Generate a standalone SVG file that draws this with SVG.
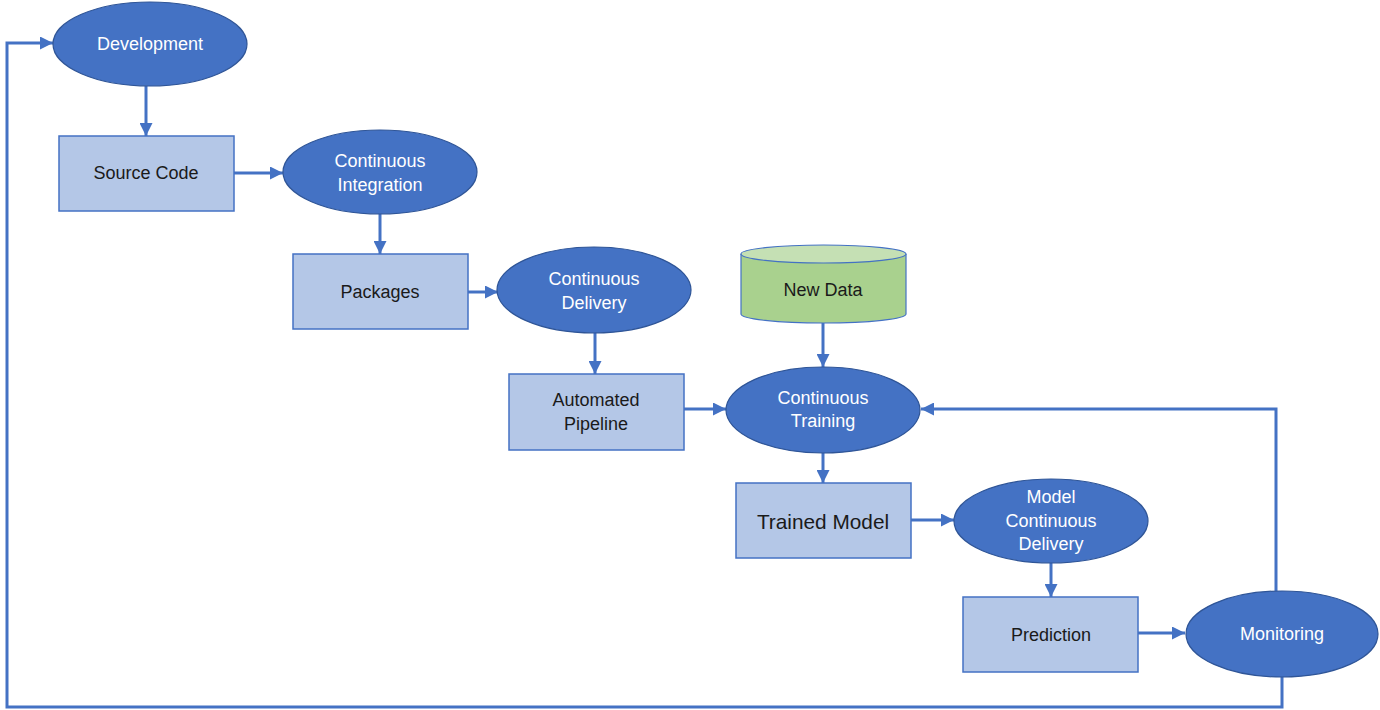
<svg xmlns="http://www.w3.org/2000/svg" width="1380" height="710" viewBox="0 0 1380 710">
<style>
.ell{fill:#4472C4;stroke:#2F5597;stroke-width:1.2}
.box{fill:#B4C7E7;stroke:#4472C4;stroke-width:1.5}
.wt{fill:#FFFFFF;font-family:"Liberation Sans",Arial,sans-serif;font-size:18px;text-anchor:middle;dominant-baseline:central}
.bt{fill:#1A1A1A;font-family:"Liberation Sans",Arial,sans-serif;font-size:18px;text-anchor:middle;dominant-baseline:central}
.con{fill:none;stroke:#4472C4;stroke-width:3;marker-end:url(#ah)}
</style>
<defs>
<marker id="ah" markerUnits="userSpaceOnUse" markerWidth="13" markerHeight="13" refX="13" refY="6.5" orient="auto">
<path d="M0,0 L13,6.5 L0,13 z" fill="#4472C4"/>
</marker>
</defs>
<rect width="1380" height="710" fill="#FFFFFF"/>
<g id="connectors">
<path class="con" d="M146,86 V136"/>
<path class="con" d="M234,173 H283"/>
<path class="con" d="M380,213 V254"/>
<path class="con" d="M468,292 H498"/>
<path class="con" d="M595,332 V374"/>
<path class="con" d="M823,323 V367"/>
<path class="con" d="M684,409 H726"/>
<path class="con" d="M823,452 V483"/>
<path class="con" d="M911,520 H954"/>
<path class="con" d="M1051,563 V597"/>
<path class="con" d="M1138,633 H1185"/>
<path class="con" d="M1276,591 V409 H921"/>
<path class="con" d="M1282,676 V707 H7 V43 H53"/>
</g>
<g id="development">
<ellipse class="ell" cx="150" cy="44" rx="97" ry="42"/>
<text class="wt" x="150" y="44">Development</text>
</g>
<g id="source-code">
<rect class="box" x="59" y="136" width="175" height="75"/>
<text class="bt" x="146" y="173">Source Code</text>
</g>
<g id="continuous-integration">
<ellipse class="ell" cx="380" cy="172" rx="97" ry="42"/>
<text class="wt" x="380" y="161">Continuous</text>
<text class="wt" x="380" y="185">Integration</text>
</g>
<g id="packages">
<rect class="box" x="293" y="254" width="175" height="75"/>
<text class="bt" x="380" y="292">Packages</text>
</g>
<g id="continuous-delivery">
<ellipse class="ell" cx="594" cy="290" rx="97" ry="43"/>
<text class="wt" x="594" y="279">Continuous</text>
<text class="wt" x="594" y="303">Delivery</text>
</g>
<g id="automated-pipeline">
<rect class="box" x="509" y="374" width="175" height="76"/>
<text class="bt" x="596" y="400">Automated</text>
<text class="bt" x="596" y="424">Pipeline</text>
</g>
<g id="new-data">
<path d="M741,254 V314 A82.5,9 0 0 0 906,314 V254" fill="#A9D18E" stroke="#4472C4" stroke-width="1.2"/>
<ellipse cx="823.5" cy="254" rx="82.5" ry="9" fill="#C5E0B4" stroke="#4472C4" stroke-width="1.2"/>
<text class="bt" x="823" y="290">New Data</text>
</g>
<g id="continuous-training">
<ellipse class="ell" cx="823" cy="410" rx="97" ry="43"/>
<text class="wt" x="823" y="398">Continuous</text>
<text class="wt" x="823" y="421">Training</text>
</g>
<g id="trained-model">
<rect class="box" x="736" y="483" width="175" height="75"/>
<text class="bt" x="823" y="521" style="font-size:20.8px">Trained Model</text>
</g>
<g id="model-continuous-delivery">
<ellipse class="ell" cx="1051" cy="521" rx="97" ry="42"/>
<text class="wt" x="1051" y="497">Model</text>
<text class="wt" x="1051" y="521">Continuous</text>
<text class="wt" x="1051" y="544">Delivery</text>
</g>
<g id="prediction">
<rect class="box" x="963" y="597" width="175" height="75"/>
<text class="bt" x="1051" y="635">Prediction</text>
</g>
<g id="monitoring">
<ellipse class="ell" cx="1282" cy="634" rx="96" ry="43"/>
<text class="wt" x="1282" y="634">Monitoring</text>
</g>
</svg>
